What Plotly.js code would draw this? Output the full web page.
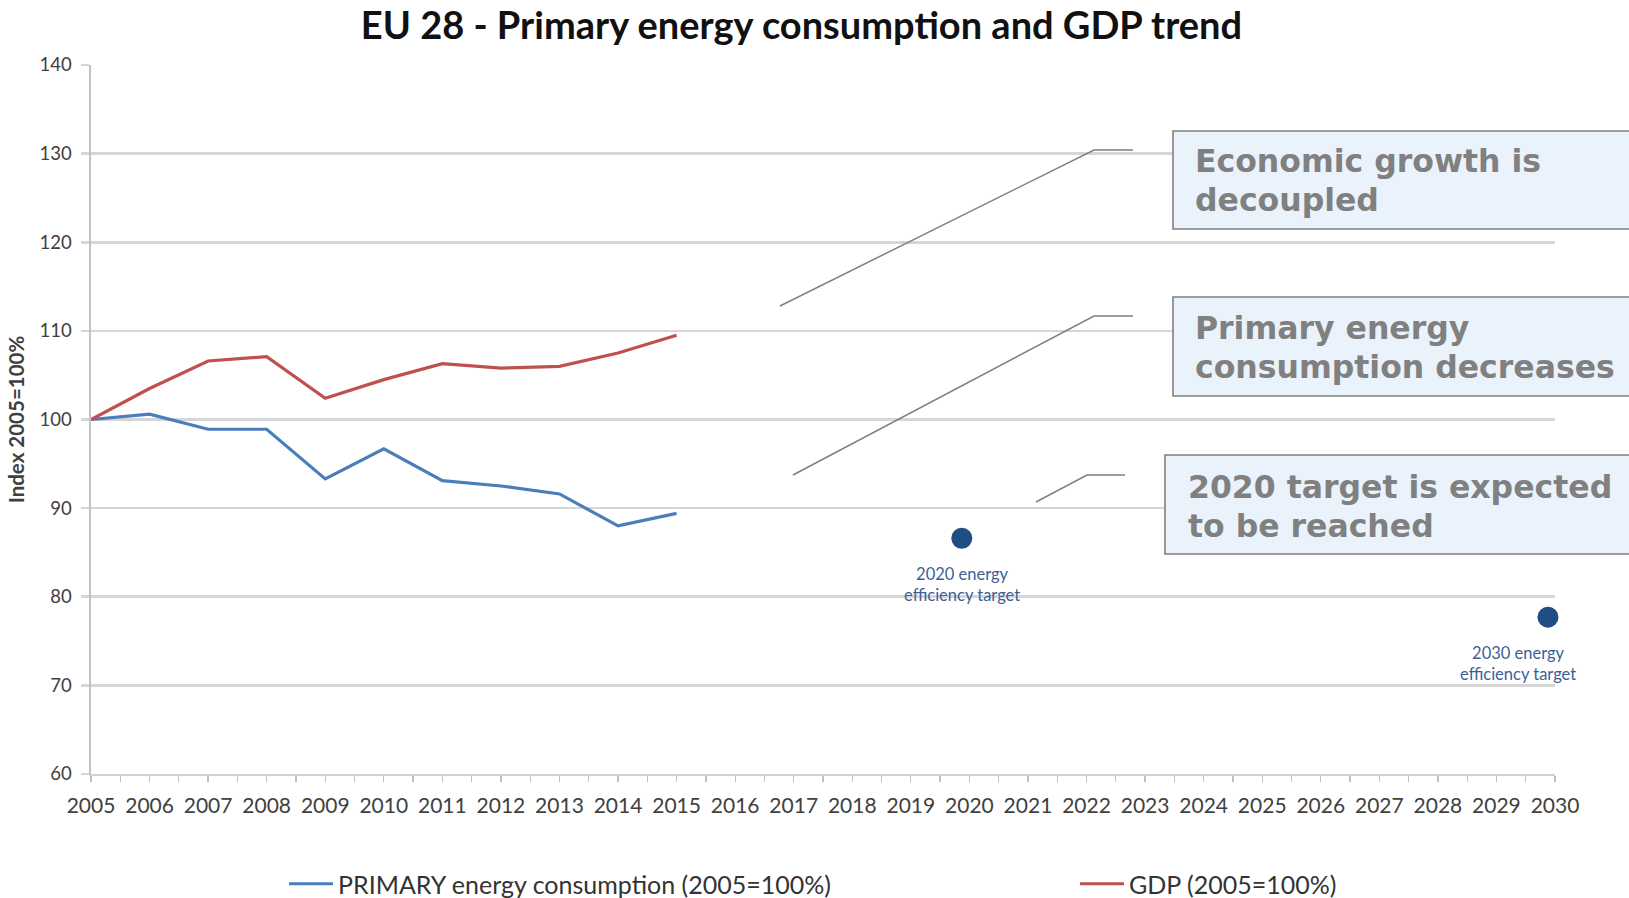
<!DOCTYPE html>
<html>
<head>
<meta charset="utf-8">
<script src="https://cdn.plot.ly/plotly-3.0.1.min.js"></script>
<style>html,body{margin:0;padding:0;background:#fff;}#chart{width:1629px;height:898px;}</style>
</head>
<body>
<div id="chart"></div>
<script>
// ---- data ----
const years = [2005, 2006, 2007, 2008, 2009, 2010, 2011, 2012, 2013, 2014, 2015];
const primaryEnergy = [100, 100.6, 98.9, 98.9, 93.3, 96.7, 93.1, 92.5, 91.6, 88.0, 89.4];
const gdp = [100, 103.5, 106.6, 107.1, 102.4, 104.5, 106.3, 105.8, 106.0, 107.5, 109.5];
const targetYears = [2019.87, 2029.88];
const targetValues = [86.6, 77.7];
const targetLabels = ['2020 energy<br>efficiency target', '2030 energy<br>efficiency target'];
const seriesNames = ['PRIMARY energy consumption (2005=100%)', 'GDP (2005=100%)'];
const calloutLines = [
  ['Economic growth is', 'decoupled'],
  ['Primary energy', 'consumption decreases'],
  ['2020 target is expected', 'to be reached']
];
const tickYears = [];
for (let y = 2005; y <= 2030; y++) tickYears.push(y);

// ---- layout helpers (pixel -> paper) ----
const L = 91, T = 65, W = 1464, H = 709;
const px = x => (x - L) / W;
const py = y => 1 - (y - T) / H;

const traces = [
  {x: years, y: primaryEnergy, name: seriesNames[0], mode: 'lines', legend: 'legend',
   line: {color: '#4a7ebb', width: 3.2}},
  {x: years, y: gdp, name: seriesNames[1], mode: 'lines', legend: 'legend2',
   line: {color: '#c0504d', width: 3.2}},
  {x: targetYears, y: targetValues, mode: 'markers', showlegend: false, cliponaxis: false,
   marker: {color: '#1f4e82', size: 21}}
];

const shapes = [];
const annotations = [];
const grey = '#7f7f7f';
// leader lines
const leaders = [
  [[780,306],[1094,150],[1133,150]],
  [[793,475],[1094,316],[1133,316]],
  [[1036,502],[1087,475],[1125,475]]
];
leaders.forEach(p => {
  shapes.push({type: 'path', xref: 'paper', yref: 'paper',
    path: 'M' + p.map(q => px(q[0]) + ',' + py(q[1])).join(' L'),
    line: {color: grey, width: 1.5}});
});
// boxes: [x0, top, bottom, textLeft, line1Center, line2Center]
const boxes = [[1173,131,229,1193,161,200],[1173,297,396,1193,328,367],[1165,455,554,1186,487,526]];
boxes.forEach((b, i) => {
  shapes.push({type: 'rect', xref: 'paper', yref: 'paper',
    x0: px(b[0]), x1: px(1660), y0: py(b[1]), y1: py(b[2]),
    fillcolor: '#eaf2fb', line: {color: grey, width: 1.6}});
  calloutLines[i].forEach((t, j) => {
    annotations.push({xref: 'paper', yref: 'paper', x: px(b[3]), y: py(b[4 + j]),
      xanchor: 'left', yanchor: 'middle', align: 'left', showarrow: false, text: t,
      font: {family: 'DejaVu Sans, Verdana, sans-serif', size: 31.5, color: '#808080', weight: 'bold'}});
  });
});
// target labels
const shifts = [0, -30];
targetYears.forEach((ty, i) => {
  annotations.push({x: ty, y: targetValues[i], xref: 'x', yref: 'y', showarrow: false,
    text: targetLabels[i], yshift: -46, xshift: shifts[i], align: 'center',
    font: {family: 'Lato, sans-serif', size: 16.5, color: '#3d5f95'}});
});

const legendFont = {family: 'Lato, sans-serif', size: 25, color: '#333'};
const layout = {
  width: 1629, height: 898,
  paper_bgcolor: '#ffffff', plot_bgcolor: '#ffffff',
  margin: {l: L, r: 1629 - L - W, t: T, b: 898 - T - H},
  title: {text: 'EU 28 - Primary energy consumption and GDP trend',
    x: 0.492, xanchor: 'center', y: 0.971, yanchor: 'middle', xref: 'container', yref: 'container',
    font: {family: 'Lato, sans-serif', size: 38, color: '#111', weight: 'bold'}},
  xaxis: {range: [2005, 2030], tickvals: tickYears, ticktext: tickYears.map(String),
    showgrid: false, zeroline: false, showline: true, linecolor: '#d0d0d0', linewidth: 2,
    ticks: 'outside', ticklen: 6, tickcolor: '#bfbfbf', tickwidth: 1.3, ticklabelstandoff: 6,
    minor: {dtick: 0.5, tick0: 2005, ticks: 'outside', ticklen: 6, tickcolor: '#bfbfbf', tickwidth: 1.3, showgrid: false},
    tickfont: {family: 'Lato, sans-serif', size: 21, color: '#404040'}, fixedrange: true},
  yaxis: {range: [60, 140], dtick: 10, tick0: 60,
    showgrid: true, gridcolor: '#d6d6d6', gridwidth: 2.6, zeroline: false,
    showline: true, linecolor: '#c4c4c4', linewidth: 1.6,
    ticks: 'outside', ticklen: 8, tickcolor: '#d6d6d6', tickwidth: 2.6, ticklabelstandoff: 6,
    tickfont: {family: 'Lato, sans-serif', size: 18.5, color: '#404040'},
    title: {text: 'Index 2005=100%', standoff: 9,
      font: {family: 'Lato, sans-serif', size: 20.5, color: '#404040', weight: 'bold'}}, fixedrange: true},
  showlegend: true,
  legend: {orientation: 'h', x: 284 / 1629, xanchor: 'left', xref: 'container',
    y: 1 - 884 / 898, yanchor: 'middle', yref: 'container', itemwidth: 44,
    bgcolor: 'rgba(0,0,0,0)', font: legendFont},
  legend2: {orientation: 'h', x: 1075 / 1629, xanchor: 'left', xref: 'container',
    y: 1 - 884 / 898, yanchor: 'middle', yref: 'container', itemwidth: 44,
    bgcolor: 'rgba(0,0,0,0)', font: legendFont},
  shapes: shapes,
  annotations: annotations
};

Plotly.newPlot('chart', traces, layout, {displayModeBar: false, staticPlot: true});
</script>
</body>
</html>
